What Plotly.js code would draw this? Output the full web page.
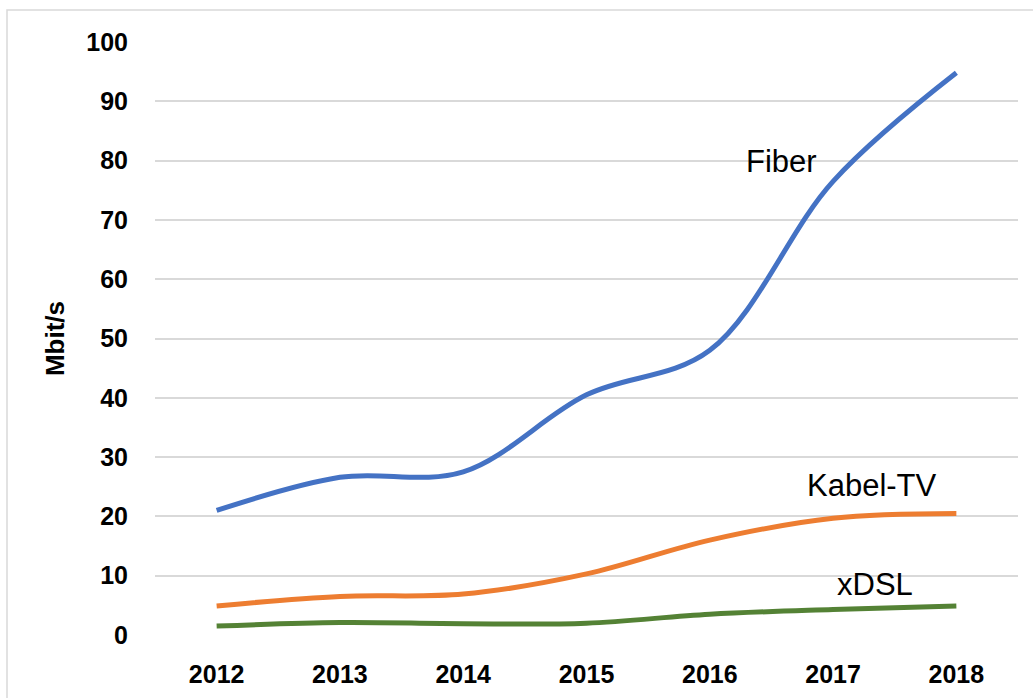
<!DOCTYPE html>
<html>
<head>
<meta charset="utf-8">
<script src="https://cdn.plot.ly/plotly-3.0.1.min.js"></script>
<style>
  html, body { margin: 0; padding: 0; background: #ffffff; }
  #chart { width: 1033px; height: 698px; }
</style>
</head>
<body>
<div id="chart"></div>
<script>
const years = ['2012', '2013', '2014', '2015', '2016', '2017', '2018'];
const fiber = [21.0, 26.6, 27.5, 40.5, 48.0, 76.5, 94.8];
const kabelTV = [4.9, 6.5, 6.9, 10.3, 16.0, 19.7, 20.5];
const xDSL = [1.5, 2.1, 1.9, 2.0, 3.5, 4.3, 4.9];
const yTicks = [0, 10, 20, 30, 40, 50, 60, 70, 80, 90, 100];
const yTitle = 'Mbit/s';
const seriesNames = ['Fiber', 'Kabel-TV', 'xDSL'];

const FONT = '"Liberation Sans", Arial, sans-serif';

function series(name, y, color) {
  return {
    type: 'scatter', mode: 'lines', name: name, x: years, y: y,
    line: { color: color, width: 5, shape: 'spline', smoothing: 1 },
    hoverinfo: 'x+y+name'
  };
}

const data = [
  series(seriesNames[0], fiber, '#4472C4'),
  series(seriesNames[1], kabelTV, '#ED7D31'),
  series(seriesNames[2], xDSL, '#548235')
];

const labelFont = { family: FONT, size: 31, color: '#000000' };

const layout = {
  width: 1033, height: 698,
  paper_bgcolor: '#ffffff', plot_bgcolor: '#ffffff',
  margin: { l: 155, r: 15, t: 42, b: 63 },
  showlegend: false,
  font: { family: FONT, color: '#000000' },
  xaxis: {
    type: 'category',
    range: [-0.5, 6.5],
    showgrid: false, zeroline: false, showline: false,
    ticks: '', ticklabelstandoff: 22,
    tickfont: { family: FONT, size: 25, color: '#000000', weight: 'bold' }
  },
  yaxis: {
    range: [0, 100],
    tickvals: yTicks,
    ticktext: yTicks.map(String),
    showgrid: true, gridcolor: '#d9d9d9', gridwidth: 1.5,
    zeroline: false, showline: false,
    ticks: '', ticklabelstandoff: 26,
    tickfont: { family: FONT, size: 25, color: '#000000', weight: 'bold' },
    title: { text: yTitle, standoff: 14,
             font: { family: FONT, size: 26, color: '#000000', weight: 'bold' } }
  },
  annotations: [
    { text: seriesNames[0], xref: 'paper', yref: 'paper', x: 0.7254, y: 0.7993,
      xanchor: 'center', yanchor: 'middle', showarrow: false, font: labelFont },
    { text: seriesNames[1], xref: 'paper', yref: 'paper', x: 0.8308, y: 0.2513,
      xanchor: 'center', yanchor: 'middle', showarrow: false, font: labelFont },
    { text: seriesNames[2], xref: 'paper', yref: 'paper', x: 0.8343, y: 0.0860,
      xanchor: 'center', yanchor: 'middle', showarrow: false, font: labelFont }
  ],
  shapes: [
    { type: 'rect', xref: 'paper', yref: 'paper',
      x0: -0.1715, x1: 1.2, y0: -0.3, y1: 1.054,
      line: { color: '#d9d9d9', width: 1.5 }, fillcolor: 'rgba(0,0,0,0)', layer: 'below' }
  ]
};

Plotly.newPlot('chart', data, layout, { displayModeBar: false, staticPlot: false });
</script>
</body>
</html>
